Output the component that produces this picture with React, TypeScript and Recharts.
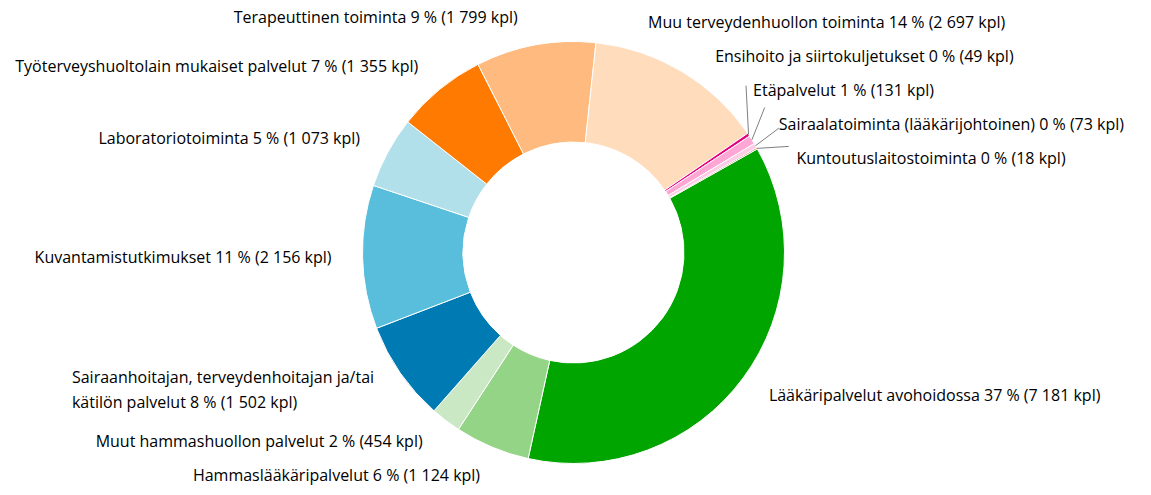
import { PieChart, Pie, Cell } from 'recharts';

// Palvelut, myötäpäivään klo 2:n kohdalta alkaen
const categories = [
  'Lääkäripalvelut avohoidossa',
  'Hammaslääkäripalvelut',
  'Muut hammashuollon palvelut',
  'Sairaanhoitajan, terveydenhoitajan ja/tai kätilön palvelut',
  'Kuvantamistutkimukset',
  'Laboratoriotoiminta',
  'Työterveyshuoltolain mukaiset palvelut',
  'Terapeuttinen toiminta',
  'Muu terveydenhuollon toiminta',
  'Ensihoito ja siirtokuljetukset',
  'Etäpalvelut',
  'Sairaalatoiminta (lääkärijohtoinen)',
  'Kuntoutuslaitostoiminta',
];

const counts = [7181, 1124, 454, 1502, 2156, 1073, 1355, 1799, 2697, 49, 131, 73, 18];

const COLORS = [
  '#00a500',
  '#94d487',
  '#c9e8c3',
  '#007ab2',
  '#58bedb',
  '#b1dfea',
  '#ff7a00',
  '#ffbb7f',
  '#ffdcbc',
  '#e6007e',
  '#ffa6d4',
  '#ffcbe5',
  '#a0592c',
];

const W = 1151;
const H = 495;
const CX = 573.5;
const CY = 252.5;
const INNER = 110.5;
const OUTER = 211;
const START = 29.4;
const END = START - 360;
const LABEL_R = 240; // natural label position
const LABEL_RX = 242; // x of labels on this circle
const BOX = 34; // slot height of one label line in the spread
const LINE_H = 25;
const FONT_SIZE = 16;
const FONT_FAMILY = '"Open Sans", sans-serif';
const FONT = `${FONT_SIZE}px "Open Sans"`;
const RAD = Math.PI / 180;

if (typeof document !== 'undefined') document.body.style.margin = '0';

const total = counts.reduce((a, b) => a + b, 0);
const fmt = (n: number) => String(n).replace(/\B(?=(\d{3})+(?!\d))/g, ' ');
const labelText = (i: number) =>
  `${categories[i]} ${Math.round((counts[i] / total) * 100)} % (${fmt(counts[i])} kpl)`;

let ctx: CanvasRenderingContext2D | null = null;
function measure(s: string) {
  if (!ctx) ctx = document.createElement('canvas').getContext('2d');
  if (!ctx) return s.length * 8.4;
  ctx.font = FONT;
  return ctx.measureText(s).width;
}

function wrap(text: string, maxW: number) {
  const lines: string[] = [];
  let cur = '';
  for (const w of text.split(' ')) {
    const t = cur ? cur + ' ' + w : w;
    if (cur && measure(t) > maxW) {
      lines.push(cur);
      cur = w;
    } else cur = t;
  }
  if (cur) lines.push(cur);
  return lines;
}

const xAt = (y: number, side: number) => {
  const dy = y - CY;
  return CX + side * Math.sqrt(Math.max(0, LABEL_RX * LABEL_RX - dy * dy));
};

type Box = { idx: number; target: number; size: number };

// push overlapping labels apart, groups centred between their outermost targets
function distribute(boxes: Box[], top: number, bottom: number) {
  const groups = [...boxes]
    .sort((a, b) => a.target - b.target)
    .map((b) => ({ items: [b], size: b.size, lo: b.target, hi: b.target, pos: 0 }));
  for (;;) {
    groups.forEach((g) => {
      const t = (g.lo + g.hi) / 2;
      g.pos = Math.min(Math.max(t - g.size / 2, top), bottom - g.size);
    });
    let merged = false;
    for (let i = groups.length - 1; i > 0; i--) {
      const a = groups[i - 1];
      const b = groups[i];
      if (a.pos + a.size > b.pos) {
        a.items.push(...b.items);
        a.size += b.size;
        a.lo = Math.min(a.lo, b.lo);
        a.hi = Math.max(a.hi, b.hi);
        groups.splice(i, 1);
        merged = true;
      }
    }
    if (!merged) break;
  }
  const out: Record<number, number> = {};
  groups.forEach((g) => {
    let p = g.pos;
    g.items.forEach((b) => {
      out[b.idx] = p + b.size / 2;
      p += b.size;
    });
  });
  return out;
}

type Lbl = { x: number; y: number; side: number; lines: string[]; share: number };

function buildLayout() {
  let a = START;
  const slices = counts.map((v, i) => {
    const span = (v / total) * (END - START);
    const mid = a + span / 2;
    a += span;
    const side = Math.cos(mid * RAD) >= 0 ? 1 : -1;
    const ny = CY - LABEL_R * Math.sin(mid * RAD);
    const nx = CX + LABEL_R * Math.cos(mid * RAD);
    const text = labelText(i);
    const room = side > 0 ? W - nx - 5 : nx - 5;
    const lines = measure(text) > room ? wrap(text, 320) : [text];
    return { i, side, ny, lines, share: v / total };
  });
  const out: Record<number, Lbl> = {};
  [1, -1].forEach((side) => {
    const part = slices.filter((s) => s.side === side);
    const ys = distribute(
      part.map((s) => ({ idx: s.i, target: s.ny, size: BOX + (s.lines.length - 1) * LINE_H })),
      0,
      H
    );
    part.forEach((s) => {
      const y = ys[s.i];
      out[s.i] = { x: xAt(y, side), y, side, lines: s.lines, share: s.share };
    });
  });
  return out;
}

let layout: Record<number, Lbl> | null = null;

const data = categories.map((name, i) => ({ name, value: counts[i] }));

function renderLabel(props: any) {
  if (!layout) layout = buildLayout();
  const l = layout[props.index];
  if (!l) return null;
  const mid = props.midAngle;
  const r0 = props.outerRadius;
  const ex = props.cx + r0 * Math.cos(mid * RAD);
  const ey = props.cy - r0 * Math.sin(mid * RAD);

  let connector = null;
  if (l.share < 0.015) {
    const labelAng = Math.atan2(CY - l.y, l.x - CX) / RAD;
    const d = ((((labelAng - mid) % 360) + 540) % 360) - 180;
    const ang = mid + d / 2;
    connector = (
      <line
        x1={ex}
        y1={ey}
        x2={CX + LABEL_R * Math.cos(ang * RAD)}
        y2={CY - LABEL_R * Math.sin(ang * RAD)}
        stroke="#7f7f7f"
        strokeWidth={1}
      />
    );
  }

  const blockW = Math.max(...l.lines.map(measure));
  const x0 = l.side > 0 ? l.x : l.x - blockW;
  const y0 = l.y - ((l.lines.length - 1) * LINE_H) / 2;

  return (
    <g key={`lbl-${props.index}`}>
      {connector}
      {l.lines.map((line, k) => (
        <text
          key={k}
          x={x0}
          y={y0 + k * LINE_H}
          dy="0.35em"
          textAnchor="start"
          fill="#000"
          fontSize={FONT_SIZE}
          fontFamily={FONT_FAMILY}
        >
          {line}
        </text>
      ))}
    </g>
  );
}

export default function App() {
  return (
    <div style={{ width: W, height: H, background: '#fff' }}>
      <PieChart width={W} height={H} margin={{ top: 0, right: 0, bottom: 0, left: 0 }}>
        <Pie
          data={data}
          dataKey="value"
          nameKey="name"
          cx={CX}
          cy={CY}
          innerRadius={INNER}
          outerRadius={OUTER}
          startAngle={START}
          endAngle={END}
          stroke="#ffffff"
          strokeWidth={1}
          label={renderLabel}
          labelLine={false}
          isAnimationActive={false}
        >
          {data.map((d, i) => (
            <Cell key={d.name} fill={COLORS[i]} />
          ))}
        </Pie>
      </PieChart>
    </div>
  );
}
